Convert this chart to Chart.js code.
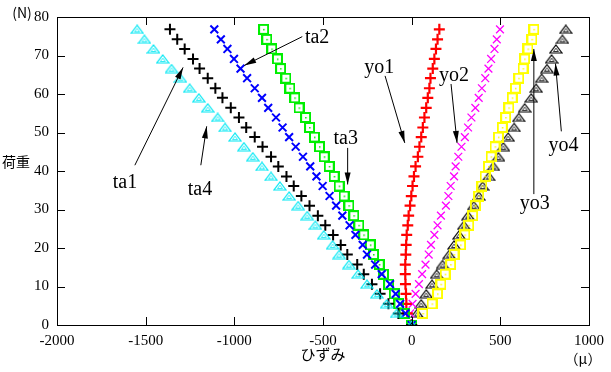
<!DOCTYPE html>
<html>
<head>
<meta charset="utf-8">
<script src="https://cdn.jsdelivr.net/npm/chart.js@4.4.1/dist/chart.umd.min.js"></script>
<style>
  html, body { margin: 0; padding: 0; background: #fff; }
  #wrap { width: 611px; height: 372px; }
</style>
</head>
<body>
<div id="wrap"><canvas id="grafico" width="611" height="372"></canvas></div>
<script>
// load steps (N), shared by every series
const loads = [0, 3.0, 5.5, 8.1, 10.6, 13.2, 15.7, 18.3, 20.8, 23.4, 25.9, 28.4, 31.0, 33.5, 36.1, 38.6,
    41.2, 43.7, 46.3, 48.8, 51.3, 53.9, 56.4, 59.0, 61.5, 64.1, 66.6, 69.1, 71.7, 74.2, 76.8];

// strain (micro) per series
const ta1 = [0, -85, -141, -196, -252, -302, -354, -409, -446, -496, -543, -589, -640, -691, -743, -793,
    -844, -896, -946, -996, -1052, -1094, -1150, -1200, -1252, -1304, -1354, -1404, -1456, -1507, -1548];
const ta4 = [0, -75, -131, -178, -224, -270, -307, -363, -400, -443, -487, -529, -576, -622, -665, -706,
    -752, -793, -841, -885, -933, -974, -1020, -1067, -1107, -1150, -1196, -1233, -1280, -1322, -1363];
const ta2 = [0, -35, -65, -90, -122, -169, -206, -252, -276, -317, -350, -391, -426, -463, -502, -537,
    -572, -613, -654, -691, -728, -765, -809, -844, -885, -928, -965, -1002, -1039, -1076, -1113];
const ta3 = [0, -43, -72, -98, -130, -159, -183, -215, -233, -270, -298, -326, -354, -381, -409, -437,
    -465, -493, -520, -548, -576, -598, -635, -659, -687, -709, -739, -757, -789, -817, -835];
const yo1 = [0, -24, -30, -32, -35, -36, -36, -33, -31, -28, -22, -17, -9, -2, 5, 13,
    22, 35, 44, 54, 63, 72, 82, 91, 100, 106, 119, 128, 137, 146, 156];
const yo2 = [0, -8, 5, 22, 41, 59, 78, 96, 109, 128, 146, 165, 193, 207, 220, 239,
    248, 263, 281, 300, 318, 337, 359, 378, 396, 415, 433, 448, 467, 480, 498];
const yo3 = [0, 63, 115, 146, 165, 189, 220, 239, 276, 300, 322, 344, 359, 378, 396, 414,
    433, 448, 470, 489, 511, 530, 548, 567, 585, 604, 628, 637, 656, 678, 689];
const yo4 = [0, 30, 54, 82, 115, 141, 174, 211, 239, 267, 294, 318, 350, 378, 400, 435,
    461, 489, 517, 544, 578, 604, 637, 674, 702, 733, 763, 789, 813, 850, 869];

const xTicks = [-2000, -1500, -1000, -500, 0, 500, 1000];
const yTicks = [0, 10, 20, 30, 40, 50, 60, 70, 80];

// labels with arrows: text position, line start, arrow tip (strain, load)
const notas = [
    { text: 'ta1', tx: -1617, ty: 37.0, x0: -1561, y0: 41.5, x1: -1289, y1: 66.9 },
    { text: 'ta4', tx: -1194, ty: 35.2, x0: -1189, y0: 41.5, x1: -1156, y1: 51.6 },
    { text: 'ta2', tx: -533, ty: 74.7, x0: -617, y0: 74.9, x1: -944, y1: 67.4 },
    { text: 'ta3', tx: -372, ty: 48.3, x0: -361, y0: 46.0, x1: -361, y1: 36.5 },
    { text: 'yo1', tx: -183, ty: 66.7, x0: -150, y0: 64.7, x1: -39, y1: 47.3 },
    { text: 'yo2', tx: 239, ty: 64.7, x0: 222, y0: 62.6, x1: 256, y1: 47.3 },
    { text: 'yo3', tx: 694, ty: 31.4, x0: 689, y0: 34.0, x1: 689, y1: 71.7 },
    { text: 'yo4', tx: 856, ty: 46.5, x0: 844, y0: 50.3, x1: 811, y1: 67.9 }
];

// gnuplot-like marker images
function triangulo(color) {
    const c = document.createElement('canvas');
    c.width = 14; c.height = 10;
    const g = c.getContext('2d');
    g.strokeStyle = color;
    g.lineWidth = 1.2;
    g.beginPath();
    g.moveTo(1, 9); g.lineTo(13, 9); g.lineTo(7, 1); g.closePath();
    g.stroke();
    g.lineWidth = 0.8;
    g.beginPath();
    g.moveTo(4.5, 7.5); g.lineTo(9.5, 7.5); g.lineTo(7, 4.2); g.closePath();
    g.stroke();
    return c;
}

function cuadro(color) {
    const c = document.createElement('canvas');
    c.width = 11; c.height = 11;
    const g = c.getContext('2d');
    g.strokeStyle = color;
    g.lineWidth = 2;
    g.strokeRect(1, 1, 9, 9);
    g.fillStyle = color;
    g.fillRect(5, 5, 1.5, 1.5);
    return c;
}

function pares(vals) {
    return loads.map((l, i) => ({ x: vals[i], y: l }));
}

function serie(label, vals, color, style, radius, width) {
    return {
        label: label,
        data: pares(vals),
        showLine: false,
        pointStyle: style,
        pointRadius: radius,
        pointHoverRadius: radius,
        pointBorderColor: color,
        pointBackgroundColor: 'rgba(0,0,0,0)',
        pointBorderWidth: width
    };
}

const datos = {
    datasets: [
        serie('ta1', ta1, '#00ffff', triangulo('#00e8f4'), 6, 1.5),
        serie('ta4', ta4, '#000000', 'cross', 5.5, 2),
        serie('ta2', ta2, '#0000ff', 'crossRot', 5.5, 2),
        serie('ta3', ta3, '#00ff00', cuadro('#00ee00'), 6, 2),
        serie('yo1', yo1, '#ff0000', 'cross', 5.5, 2.2),
        serie('yo2', yo2, '#ff00ff', 'crossRot', 5.5, 1.3),
        serie('yo3', yo3, '#ffff00', cuadro('#ffff00'), 6, 2),
        serie('yo4', yo4, '#000000', triangulo('#000000'), 6, 1.5)
    ]
};

// frame, inward ticks, labels and arrows
const marco = {
    id: 'marco',
    afterDatasetsDraw(chart) {
        const ctx = chart.ctx;
        const a = chart.chartArea;
        const xs = chart.scales.x, ys = chart.scales.y;
        ctx.save();
        ctx.strokeStyle = '#000';
        ctx.lineWidth = 1;
        ctx.strokeRect(Math.round(a.left) + 0.5, Math.round(a.top) + 0.5,
            Math.round(a.right - a.left), Math.round(a.bottom - a.top));
        ctx.beginPath();
        xTicks.forEach(v => {
            const px = Math.round(xs.getPixelForValue(v)) + 0.5;
            ctx.moveTo(px, a.bottom); ctx.lineTo(px, a.bottom - 8);
            ctx.moveTo(px, a.top); ctx.lineTo(px, a.top + 8);
        });
        yTicks.forEach(v => {
            const py = Math.round(ys.getPixelForValue(v)) + 0.5;
            ctx.moveTo(a.left, py); ctx.lineTo(a.left + 8, py);
            ctx.moveTo(a.right, py); ctx.lineTo(a.right - 8, py);
        });
        ctx.stroke();

        ctx.fillStyle = '#000';
        ctx.font = '20px "Liberation Serif"';
        ctx.textAlign = 'center';
        ctx.textBaseline = 'middle';
        notas.forEach(n => {
            ctx.fillText(n.text, xs.getPixelForValue(n.tx), ys.getPixelForValue(n.ty));
            const x0 = xs.getPixelForValue(n.x0), y0 = ys.getPixelForValue(n.y0);
            const x1 = xs.getPixelForValue(n.x1), y1 = ys.getPixelForValue(n.y1);
            const ang = Math.atan2(y1 - y0, x1 - x0);
            ctx.beginPath();
            ctx.moveTo(x0, y0); ctx.lineTo(x1, y1);
            ctx.stroke();
            ctx.beginPath();
            ctx.moveTo(x1, y1);
            ctx.lineTo(x1 - 12 * Math.cos(ang) + 3 * Math.sin(ang), y1 - 12 * Math.sin(ang) - 3 * Math.cos(ang));
            ctx.lineTo(x1 - 12 * Math.cos(ang) - 3 * Math.sin(ang), y1 - 12 * Math.sin(ang) + 3 * Math.cos(ang));
            ctx.closePath();
            ctx.fill();
        });

        ctx.font = '14px "Noto Sans CJK JP"';
        ctx.fillText('(N)', 22, 13);
        ctx.fillText('荷重', 16, 162);
        ctx.fillText('（μ）', 583, 359);
        ctx.restore();
    }
};

const config = {
    type: 'scatter',
    data: datos,
    options: {
        responsive: false,
        devicePixelRatio: 1,
        animation: false,
        layout: { padding: { left: 0, right: 14, top: 7, bottom: 0 } },
        scales: {
            x: {
                type: 'linear',
                min: -2000,
                max: 1000,
                afterFit: s => { s.height = 47; },
                afterBuildTicks: s => { s.ticks = xTicks.map(v => ({ value: v })); },
                grid: { display: false, drawTicks: false },
                border: { display: false },
                ticks: {
                    padding: 7,
                    color: '#000',
                    maxRotation: 0,
                    callback: v => String(v),
                    font: { size: 15, family: 'Liberation Serif' }
                },
                title: {
                    display: true,
                    text: 'ひずみ',
                    color: '#000',
                    padding: { top: 0, bottom: 9 },
                    font: { size: 15, family: 'Noto Sans CJK JP' }
                }
            },
            y: {
                type: 'linear',
                min: 0,
                max: 80,
                afterFit: s => { s.width = 57; },
                afterBuildTicks: s => { s.ticks = yTicks.map(v => ({ value: v })); },
                grid: { display: false, drawTicks: false },
                border: { display: false },
                ticks: {
                    padding: 8,
                    color: '#000',
                    callback: v => String(v),
                    font: { size: 15, family: 'Liberation Serif' }
                }
            }
        },
        plugins: {
            legend: { display: false },
            tooltip: { enabled: false }
        }
    },
    plugins: [marco]
};

const grafico = new Chart(document.getElementById('grafico'), config);
</script>
</body>
</html>
